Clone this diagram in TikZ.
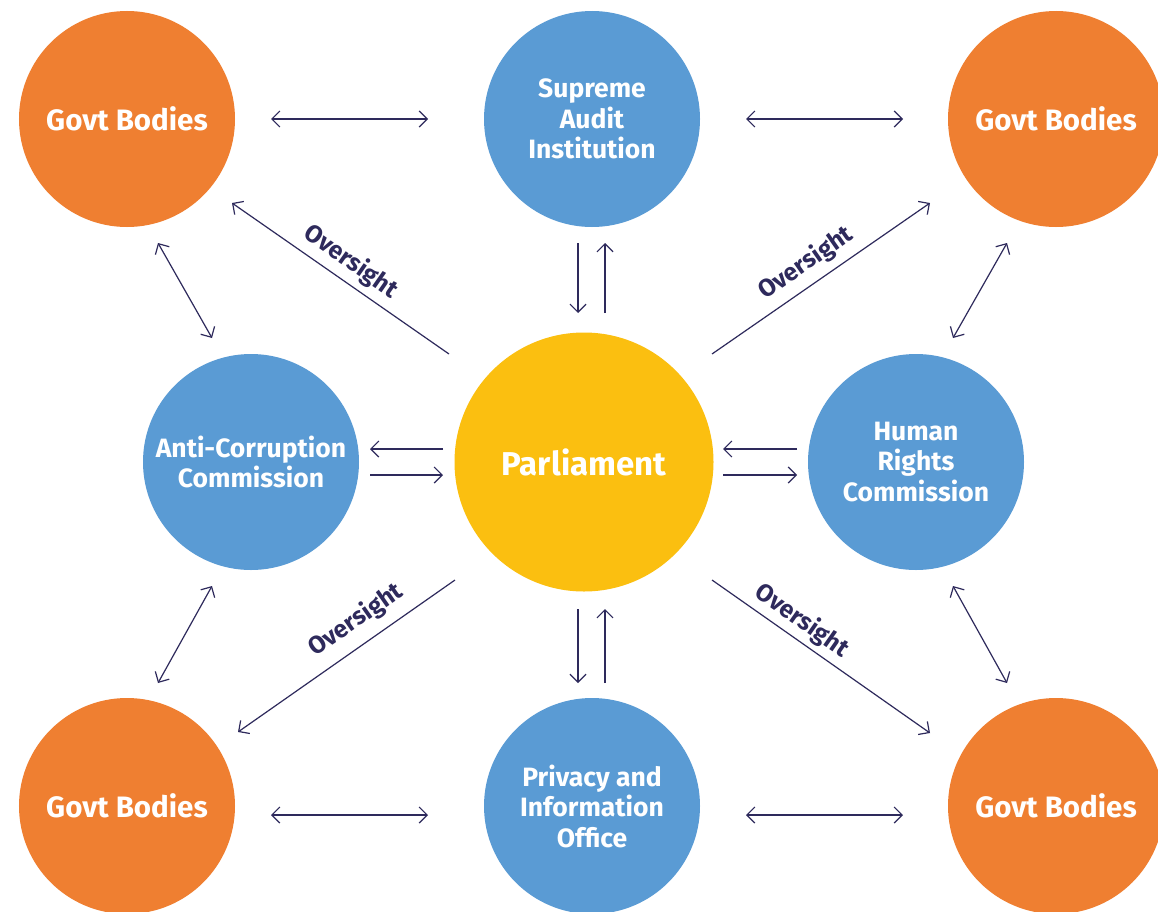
\documentclass[tikz,border=0pt]{standalone}
\usepackage{fontspec}
\setmainfont{Fira Sans}
\usetikzlibrary{arrows.meta}

\definecolor{govorange}{HTML}{EF7F31}
\definecolor{bodyblue}{HTML}{5A9BD4}
\definecolor{parlyellow}{HTML}{FBBF10}
\definecolor{navy}{HTML}{2E2A5C}

\tikzset{
  body/.style={circle, minimum size=216bp, inner sep=0pt, text=white,
    font=\bfseries\fontsize{26.5bp}{30.5bp}\selectfont, align=center},
  govt/.style={body, fill=govorange, font=\bfseries\fontsize{29.5bp}{32bp}\selectfont},
  agency/.style={body, fill=bodyblue},
  hub/.style={body, fill=parlyellow, minimum size=259bp,
    font=\bfseries\fontsize{33bp}{36bp}\selectfont},
  link/.style={draw=navy, line width=1.2bp,
    >={Straight Barb[length=8bp,width=16bp,line width=1.2bp]}},
  both/.style={link, <->},
  one/.style={link, ->},
  oversight/.style={text=navy, font=\bfseries\fontsize{24.5bp}{26bp}\selectfont, inner sep=0pt}
}

\begin{document}
\begin{tikzpicture}[x=1bp, y=-1bp]
  \fill[white] (0,0) rectangle (1158,912);
  \clip (0,0) rectangle (1158,912);
  \useasboundingbox (0,0) rectangle (1158,912);

  % circles
  \node[govt]   (gbTL) at (127,119)  {Govt Bodies};
  \node[agency] (sai)  at (592,119)  {Supreme\\Audit\\Institution};
  \node[govt]   (gbTR) at (1056,119) {Govt Bodies};
  \node[agency] (acc)  at (251,462)  {Anti-Corruption\\Commission};
  \node[hub]    (parl) at (584,462)  {Parliament};
  \node[agency] (hrc)  at (916,462)  {Human\\Rights\\Commission};
  \node[govt]   (gbBL) at (127,806)  {Govt Bodies};
  \node[agency] (pio)  at (592,806)  {Privacy and\\Information\\Office};
  \node[govt]   (gbBR) at (1056,806) {Govt Bodies};

  % horizontal exchanges along the top and bottom rows
  \draw[both] ([shift={(144,0)}]gbTL.center) -- ([shift={(-164,0)}]sai.center);
  \draw[both] ([shift={(154,0)}]sai.center) -- ([shift={(-153,0)}]gbTR.center);
  \draw[both] ([shift={(144,9)}]gbBL.center) -- ([shift={(-164,9)}]pio.center);
  \draw[both] ([shift={(154,9)}]pio.center) -- ([shift={(-153,9)}]gbBR.center);

  % reporting pairs with parliament
  \draw[one] ([shift={(-14,124)}]sai.center) -- ([shift={(-6,-149)}]parl.center);
  \draw[one] ([shift={(21,-149)}]parl.center) -- ([shift={(13,124)}]sai.center);
  \draw[one] ([shift={(-6,147)}]parl.center) -- ([shift={(-14,-123)}]pio.center);
  \draw[one] ([shift={(13,-123)}]pio.center) -- ([shift={(21,147)}]parl.center);
  \draw[one] ([shift={(-141,-13)}]parl.center) -- ([shift={(119,-13)}]acc.center);
  \draw[one] ([shift={(119,13)}]acc.center) -- ([shift={(-141,13)}]parl.center);
  \draw[one] ([shift={(-119,-13)}]hrc.center) -- ([shift={(139,-13)}]parl.center);
  \draw[one] ([shift={(139,13)}]parl.center) -- ([shift={(-119,13)}]hrc.center);

  % side exchanges between commissions and government bodies
  \draw[both] ([shift={(31,124)}]gbTL.center) -- ([shift={(-39,-124)}]acc.center);
  \draw[both] ([shift={(-49,124)}]gbTR.center) -- ([shift={(37,-124)}]hrc.center);
  \draw[both] ([shift={(-39,124)}]acc.center) -- ([shift={(31,-123)}]gbBL.center);
  \draw[both] ([shift={(37,124)}]hrc.center) -- ([shift={(-49,-123)}]gbBR.center);

  % oversight lines
  \draw[one] ([shift={(-135,-108)}]parl.center) -- ([shift={(105,84)}]gbTL.center);
  \draw[one] ([shift={(128,-108)}]parl.center) -- ([shift={(-126,84)}]gbTR.center);
  \draw[one] ([shift={(-129,118)}]parl.center) -- ([shift={(111,-74)}]gbBL.center);
  \draw[one] ([shift={(128,118)}]parl.center) -- ([shift={(-126,-73)}]gbBR.center);

  \node[oversight, rotate=-35] (ovTL) at (351,262) {Oversight};
  \node[oversight, rotate=35]  (ovTR) at (806,263) {Oversight};
  \node[oversight, rotate=35]  (ovBL) at (356,620) {Oversight};
  \node[oversight, rotate=-35] (ovBR) at (802,621) {Oversight};
\end{tikzpicture}
\end{document}
